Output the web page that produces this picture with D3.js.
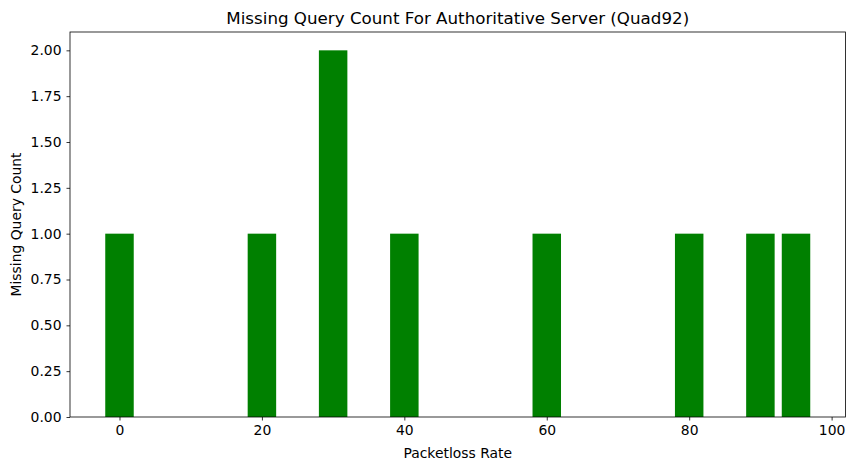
<!DOCTYPE html>
<html>

<head>
    <meta charset='utf-8'>
</head>
<style>
    body { margin: 0; background: #fff; }
    * { font-family: 'DejaVu Sans', sans-serif; }
</style>

<body>
    <svg width="855" height="470"></svg>
    <script src="https://d3js.org/d3.v7.min.js"></script>
    <script>
        // data
        var rates = [0, 20, 30, 40, 60, 80, 90, 95];
        var counts = [1, 1, 2, 1, 1, 1, 1, 1];
        var xTicks = [0, 20, 40, 60, 80, 100];
        var yTicks = [0, 0.25, 0.5, 0.75, 1, 1.25, 1.5, 1.75, 2];
        var barWidth = 4;

        var svg = d3.select('svg');
        // plot box (note: "top" is taken by window.top, so use other names)
        var plotL = 70, plotR = 845.5, plotT = 32, plotB = 417;

        // matplotlib-style 5% margins around the data
        var xMin = d3.min(rates) - barWidth / 2, xMax = d3.max(rates) + barWidth / 2;
        var pad = (xMax - xMin) * 0.05;
        var x = d3.scaleLinear().domain([xMin - pad, xMax + pad]).range([plotL, plotR]);
        var y = d3.scaleLinear().domain([0, d3.max(counts) * 1.05]).range([plotB, plotT]);

        svg.append('g')
            .selectAll('rect')
            .data(rates)
            .enter().append('rect')
            .attr('x', function(d) { return x(d - barWidth / 2); })
            .attr('width', function(d) { return x(d + barWidth / 2) - x(d - barWidth / 2); })
            .attr('y', function(d, i) { return y(counts[i]); })
            .attr('height', function(d, i) { return plotB - y(counts[i]); })
            .attr('fill', '#008000');

        var xAxis = svg.append('g')
            .attr('transform', 'translate(0,' + plotB + ')')
            .call(d3.axisBottom(x).tickValues(xTicks).tickSize(3.5).tickPadding(5).tickFormat(d3.format('d')));
        var yAxis = svg.append('g')
            .attr('transform', 'translate(' + plotL + ',0)')
            .call(d3.axisLeft(y).tickValues(yTicks).tickSize(3.5).tickPadding(5).tickFormat(d3.format('.2f')));

        [xAxis, yAxis].forEach(function(a) {
            a.select('.domain').remove();
            a.selectAll('text').attr('font-size', '13.9px').attr('fill', '#000')
                .style('font-family', "'DejaVu Sans', sans-serif");
            a.selectAll('line').attr('stroke', '#000').attr('stroke-width', 0.8);
        });

        // frame
        svg.append('rect')
            .attr('x', plotL).attr('y', plotT)
            .attr('width', plotR - plotL).attr('height', plotB - plotT)
            .attr('fill', 'none').attr('stroke', '#000').attr('stroke-width', 0.8);

        svg.append('text')
            .attr('x', (plotL + plotR) / 2).attr('y', 24)
            .attr('text-anchor', 'middle')
            .attr('font-size', '16.7px')
            .text('Missing Query Count For Authoritative Server (Quad92)');

        svg.append('text')
            .attr('x', (plotL + plotR) / 2).attr('y', 458)
            .attr('text-anchor', 'middle')
            .attr('font-size', '13.9px')
            .text('Packetloss Rate');

        svg.append('text')
            .attr('transform', 'translate(21,' + (plotT + plotB) / 2 + ') rotate(-90)')
            .attr('text-anchor', 'middle')
            .attr('font-size', '13.9px')
            .text('Missing Query Count');
    </script>
</body>

</html>
